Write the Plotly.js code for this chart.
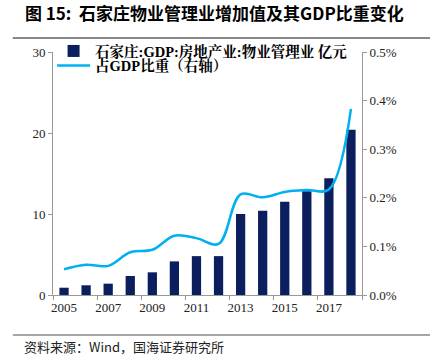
<!DOCTYPE html>
<html><head><meta charset="utf-8">
<script src="https://cdn.plot.ly/plotly-3.0.1.min.js"></script>
<style>html,body{margin:0;padding:0;background:#fff;}#chart{width:430px;height:359px;}</style>
</head><body><div id="chart"></div>
<script>
const years = ['2005','2006','2007','2008','2009','2010','2011','2012','2013','2014','2015','2016','2017','2018'];
const addedValue = [0.9,1.2,1.4,2.35,2.8,4.15,4.8,4.8,10.0,10.4,11.5,12.8,14.4,20.4];
const gdpShare = [0.053,0.062,0.060,0.088,0.093,0.122,0.117,0.105,0.207,0.201,0.212,0.216,0.217,0.383];
const barName = '<b>石家庄:GDP:房地产业:物业管理业 亿元</b>';
const lineName = '<b>占GDP比重（右轴）</b>';
const titleText = '<b>图 15:  石家庄物业管理业增加值及其GDP比重变化</b>';
const sourceText = '资料来源：Wind，国海证券研究所';

const serif = '"Liberation Serif", "Noto Serif CJK SC", "Noto Sans CJK SC", serif';
const traces = [
  {type:'bar', x:years, y:addedValue, name:barName, marker:{color:'#0b1f5f'}, width:0.42, yaxis:'y', legend:'legend'},
  {type:'scatter', mode:'lines', x:years, y:gdpShare, name:lineName, yaxis:'y2', legend:'legend2',
   line:{color:'#00b0f0', width:2.5, shape:'spline', smoothing:1}}
];
const axisCommon = {showgrid:false, zeroline:false, showline:true, linecolor:'#999', linewidth:1,
  ticks:'outside', ticklen:4, tickcolor:'#999', tickangle:0, tickfont:{family:serif, size:13, color:'#222'}};
const legendCommon = {x:-0.003, xanchor:'left', yanchor:'middle', bgcolor:'rgba(0,0,0,0)',
  font:{family:serif, size:14.5, color:'#000'}, itemwidth:33};
const layout = {
  width:430, height:359,
  margin:{l:53, r:68, t:52, b:64},
  paper_bgcolor:'#fff', plot_bgcolor:'#fff',
  title:{text:titleText, xref:'container', yref:'container', x:0.058, xanchor:'left', y:0.978, yanchor:'top',
    font:{family:'"Noto Sans CJK SC", "Liberation Sans", sans-serif', size:17, color:'#000'}},
  showlegend:true,
  legend:Object.assign({}, legendCommon, {y:1.004}),
  legend2:Object.assign({}, legendCommon, {y:0.944}),
  xaxis:Object.assign({}, axisCommon, {type:'category', dtick:2, tickson:'boundaries', range:[-0.5,13.5]}),
  yaxis:Object.assign({}, axisCommon, {range:[0,30], dtick:10}),
  yaxis2:Object.assign({}, axisCommon, {overlaying:'y', side:'right', range:[0,0.5], dtick:0.1,
    tickformat:'.1f', ticksuffix:'%'}),
  shapes:[
    {type:'line', xref:'paper', yref:'paper', x0:-0.13, x1:1.25, y0:1.058, y1:1.058, line:{color:'#888', width:2}},
    {type:'line', xref:'paper', yref:'paper', x0:-0.13, x1:1.25, y0:-0.165, y1:-0.165, line:{color:'#888', width:1.5}}
  ],
  annotations:[
    {text:sourceText, xref:'paper', yref:'paper', x:-0.101, y:-0.212, xanchor:'left', yanchor:'middle', showarrow:false,
     font:{family:'"Noto Sans CJK SC", "Liberation Sans", sans-serif', size:13, color:'#222'}}
  ]
};
Plotly.newPlot('chart', traces, layout, {displayModeBar:false, staticPlot:true});
</script></body></html>
